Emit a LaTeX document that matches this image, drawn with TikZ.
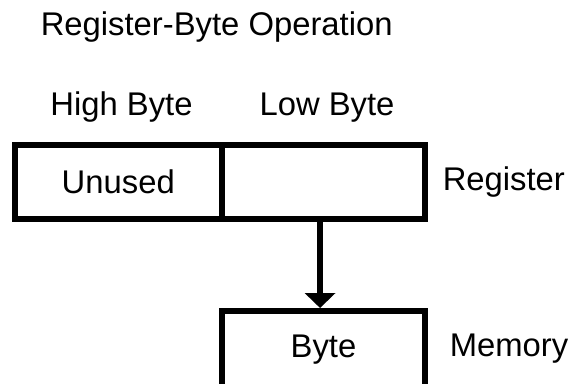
\documentclass[tikz,border=0pt]{standalone}
\usepackage{fontspec}
\setmainfont{Liberation Sans}
\usetikzlibrary{arrows.meta}

\tikzset{
	lbl/.style={font=\fontsize{24.6}{29}\selectfont, inner sep=0pt},
	cell/.style={lbl, draw, line width=4.5pt, minimum height=55.5pt},
	move/.style={line width=4.5pt, -{Triangle[width=22.5pt,length=11.25pt]}},
}

\begin{document}
\begin{tikzpicture}[x=0.75pt,y=-0.75pt]
		\useasboundingbox (0,0) rectangle (577,383);
		\node[lbl, anchor=base west] (title) at (40.5,35){Register-Byte Operation};
		\node[lbl, anchor=base] (hightxt) at (121.5,115){High Byte};
		\node[lbl, anchor=base] (lowtxt) at (327,115){Low Byte};
		\node[cell, minimum width=154.9pt] (unused) at (118.25,181.5){Unused};
		\node[cell, minimum width=152.6pt] (low) at (323.25,181.5){};
		\node[lbl, anchor=base west] (reg) at (442.5,190){Register};
		\node[cell, minimum width=152.25pt, minimum height=58.5pt] (byte) at (323.5,350){Byte};
		\node[lbl, anchor=base west] (mem) at (449.5,356){Memory};
		\draw[move] ([xshift=-2.4pt]low.south) -- ([xshift=-2.4pt]low.south |- byte.north);
	\end{tikzpicture}
\end{document}
